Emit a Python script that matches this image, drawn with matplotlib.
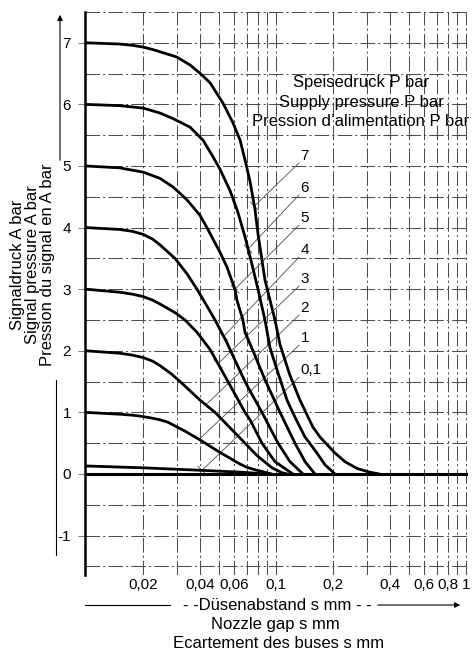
import numpy as np
import matplotlib.pyplot as plt

plt.rcParams["font.family"] = ["Liberation Sans", "DejaVu Sans"]
plt.rcParams["font.size"] = 11

# supply pressure P (bar) for each curve, labels as printed
supply_labels = ["7", "6", "5", "4", "3", "2", "1", "0,1"]

# nozzle gap s (mm) / signal pressure A (bar)
gap_7 = [0.01, 0.015, 0.0175, 0.02, 0.0225, 0.03, 0.0353, 0.04, 0.045, 0.0526, 0.0594,
         0.0647, 0.0687, 0.073, 0.0775, 0.0804, 0.0844, 0.0875, 0.0988, 0.105, 0.1185,
         0.1337, 0.1565, 0.1705, 0.2044, 0.2307, 0.2668, 0.31, 0.35]
sig_7 = [7.0, 6.98, 6.96, 6.93, 6.89, 6.77, 6.64, 6.5, 6.35, 6.02, 5.7,
         5.42, 5.1, 4.75, 4.3, 3.9, 3.47, 3.15, 2.5, 2.1, 1.6,
         1.2, 0.76, 0.6, 0.34, 0.2, 0.09, 0.03, 0.0]

gap_6 = [0.01, 0.015, 0.02, 0.0245, 0.0287, 0.0353, 0.0413, 0.0466, 0.0507, 0.0573,
         0.063, 0.0687, 0.0748, 0.0804, 0.0875, 0.093, 0.1025, 0.1143, 0.1228, 0.1337,
         0.1422, 0.1644, 0.181, 0.2044]
sig_6 = [6.0, 5.98, 5.94, 5.86, 5.77, 5.63, 5.42, 5.15, 4.95, 4.6,
         4.25, 3.85, 3.4, 3.0, 2.5, 2.05, 1.64, 1.2, 0.99, 0.76,
         0.6, 0.34, 0.15, 0.0]

gap_5 = [0.01, 0.015, 0.02, 0.0245, 0.0287, 0.034, 0.0398, 0.0433, 0.0507, 0.0552,
         0.0608, 0.0623, 0.067, 0.0687, 0.0757, 0.0875, 0.105, 0.1259, 0.1422, 0.1604]
sig_5 = [5.0, 4.97, 4.9, 4.8, 4.66, 4.45, 4.2, 4.0, 3.6, 3.36,
         3.0, 2.82, 2.5, 2.3, 2.0, 1.53, 1.0, 0.5, 0.2, 0.0]

gap_4 = [0.01, 0.015, 0.0175, 0.02, 0.0225, 0.0245, 0.0294, 0.034, 0.0384, 0.0423,
         0.0478, 0.0552, 0.0608, 0.0687, 0.073, 0.0844, 0.1025, 0.1185, 0.1387]
sig_4 = [4.0, 3.97, 3.94, 3.89, 3.81, 3.72, 3.5, 3.25, 3.0, 2.78,
         2.5, 2.13, 1.85, 1.5, 1.35, 1.0, 0.5, 0.2, 0.0]

gap_3 = [0.01, 0.0151, 0.0175, 0.02, 0.0225, 0.0245, 0.0294, 0.0332, 0.0384, 0.045,
         0.0559, 0.0687, 0.073, 0.0844, 0.0988, 0.1228]
sig_3 = [3.0, 2.95, 2.92, 2.88, 2.82, 2.76, 2.62, 2.5, 2.3, 2.02,
         1.5, 1.0, 0.88, 0.5, 0.2, 0.0]

gap_2 = [0.01, 0.0151, 0.0175, 0.02, 0.0225, 0.0245, 0.028, 0.0313, 0.0398, 0.0478,
         0.0573, 0.0687, 0.0794, 0.0953, 0.1076, 0.115]
sig_2 = [2.0, 1.96, 1.93, 1.89, 1.83, 1.76, 1.63, 1.5, 1.2, 1.0,
         0.75, 0.5, 0.3, 0.1, 0.02, 0.0]

gap_1 = [0.01, 0.0151, 0.0175, 0.0192, 0.022, 0.0245, 0.027, 0.0294, 0.033, 0.0375,
         0.04, 0.045, 0.0507, 0.057, 0.063, 0.07, 0.0794, 0.095]
sig_1 = [1.0, 0.97, 0.955, 0.94, 0.91, 0.88, 0.84, 0.78, 0.7, 0.6,
         0.55, 0.45, 0.35, 0.26, 0.18, 0.11, 0.06, 0.0]

gap_01 = [0.01, 0.02, 0.04, 0.0647, 0.09]
sig_01 = [0.13, 0.1, 0.06, 0.03, 0.0]

curves = [(gap_7, sig_7), (gap_6, sig_6), (gap_5, sig_5), (gap_4, sig_4),
          (gap_3, sig_3), (gap_2, sig_2), (gap_1, sig_1), (gap_01, sig_01)]

# where each leader line meets its curve (gap, mm) and label heights (bar)
leader_end_gap = [0.077, 0.0713, 0.0608, 0.053, 0.0495, 0.0428, 0.0394, 0.0408]
label_y = [5.05, 4.53, 4.04, 3.52, 3.05, 2.58, 2.09, 1.57]
label_gap = 0.1322

x_ticks = [0.02, 0.04, 0.06, 0.1, 0.2, 0.4, 0.6, 0.8, 1.0]
x_ticklabels = ["0,02", "0,04", "0,06", "0,1", "0,2", "0,4", "0,6", "0,8", "1"]
x_grid = [0.02, 0.03, 0.04, 0.05, 0.06, 0.07, 0.08, 0.09, 0.1,
          0.2, 0.3, 0.4, 0.5, 0.6, 0.7, 0.8, 0.9, 1.0]
y_ticks = [-1, 0, 1, 2, 3, 4, 5, 6, 7]
y_grid = np.arange(-1.5, 7.51, 0.5)

fig = plt.figure(figsize=(4.76, 6.54), dpi=100)
ax = fig.add_axes([85 / 476, 79 / 654, 382.6 / 476, 563 / 654])
ax.set_xscale("log")
ax.set_xlim(0.00988, 1.02)
ax.set_ylim(-1.64, 7.5)

# broken drafting grid
grid_style = dict(color="0.3", lw=0.75, linestyle=(0, (14, 3, 2, 3)), zorder=1)
for gx in x_grid:
    ax.axvline(gx, **grid_style)
for gy in y_grid:
    ax.axhline(gy, **grid_style)

ax.axhline(0, color="black", lw=2.2, zorder=3)

for gap, sig in curves:
    ax.plot(gap, sig, color="black", lw=2.0, solid_capstyle="round",
            solid_joinstyle="round", zorder=4)

# leader lines with their labels
fig.canvas.draw()
to_disp = ax.transData
to_data = ax.transData.inverted()
for (gap, sig), lab, ly, eg in zip(curves, supply_labels, label_y, leader_end_gap):
    ey = np.interp(np.log10(eg), np.log10(gap), sig)
    ax.plot([eg, label_gap], [ey, ly], color="0.3", lw=0.6, zorder=2)
    ex, eyd = to_disp.transform((eg, ey))
    p1 = to_data.transform((ex - 4, eyd + 4))
    p2 = to_data.transform((ex + 4, eyd - 4))
    ax.plot([p1[0], p2[0]], [p1[1], p2[1]], color="0.3", lw=0.6, zorder=2)
    ax.text(label_gap * 1.02, ly, lab, ha="left", va="bottom", fontsize=11)

ax.set_xticks(x_ticks)
ax.set_xticklabels(x_ticklabels)
ax.xaxis.set_minor_locator(plt.NullLocator())
ax.set_yticks(y_ticks)
ax.set_yticklabels([str(v) for v in y_ticks])
ax.tick_params(axis="x", length=0, pad=2)
ax.tick_params(axis="y", length=5, width=0.6, color="0.4", pad=5)

for side in ["top", "right", "bottom"]:
    ax.spines[side].set_visible(False)
ax.spines["left"].set_linewidth(1.8)

title_size = 12

# top right legend heading
fig.text(361 / 476, 1 - 83 / 654, "Speisedruck P bar", ha="center", va="center", fontsize=title_size)
fig.text(361 / 476, 1 - 103 / 654, "Supply pressure P bar", ha="center", va="center", fontsize=title_size)
fig.text(361 / 476, 1 - 122 / 654, "Pression d\u2019alimentation P bar", ha="center", va="center", fontsize=title_size)

# y axis title with arrow
fig.text(33 / 476, 1 - 265 / 654,
         "Signaldruck A bar\nSignal pressure A bar\nPression du signal en A bar",
         rotation=90, ha="center", va="center", multialignment="center",
         fontsize=title_size, linespacing=1.0)
fig.add_artist(plt.Line2D([56 / 476, 56 / 476], [1 - 380 / 654, 1 - 555 / 654],
                          color="black", lw=0.8))
ax.annotate("", xy=(60 / 476, 1 - 12 / 654), xytext=(60 / 476, 1 - 163 / 654),
            xycoords="figure fraction", textcoords="figure fraction",
            arrowprops=dict(arrowstyle="-|>", color="black", lw=0.8, mutation_scale=8))

# x axis title with arrow
fig.text(277 / 476, 1 - 605 / 654, "- -D\u00fcsenabstand s mm - -", ha="center", va="center", fontsize=title_size)
fig.text(275 / 476, 1 - 625 / 654, "Nozzle gap s mm", ha="center", va="center", fontsize=title_size)
fig.text(279 / 476, 1 - 643 / 654, "Ecartement des buses s mm", ha="center", va="center", fontsize=title_size)
fig.add_artist(plt.Line2D([85 / 476, 170 / 476], [1 - 605 / 654, 1 - 605 / 654],
                          color="black", lw=0.8))
ax.annotate("", xy=(463 / 476, 1 - 605 / 654), xytext=(375 / 476, 1 - 605 / 654),
            xycoords="figure fraction", textcoords="figure fraction",
            arrowprops=dict(arrowstyle="-|>", color="black", lw=0.8, mutation_scale=8))

fig.savefig("out.png", dpi=100)
